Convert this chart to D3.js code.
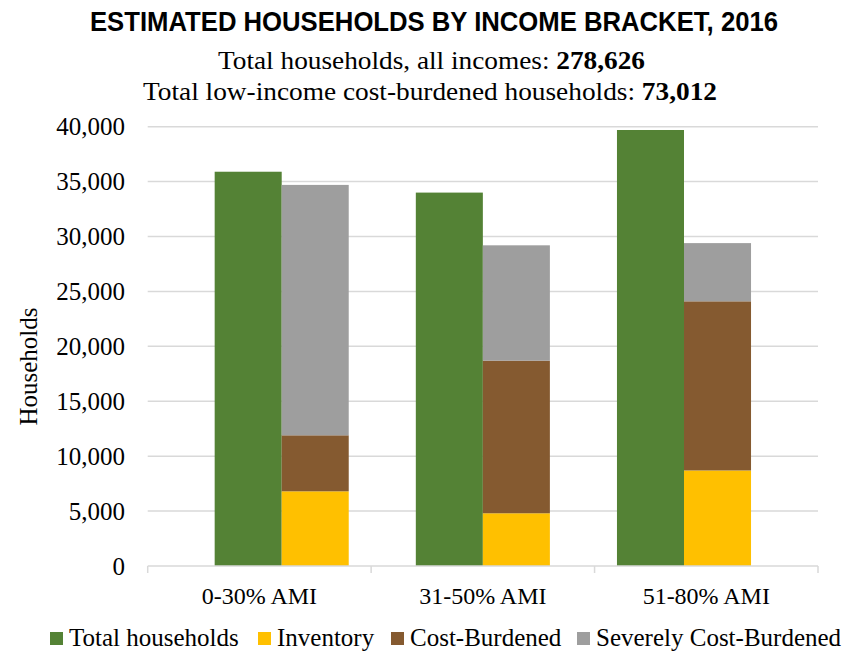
<!DOCTYPE html>
<html>
<head>
<meta charset="utf-8">
<script src="https://cdn.jsdelivr.net/npm/d3@7/dist/d3.min.js"></script>
<style>
  html, body { margin: 0; padding: 0; background: #fff; }
  svg text { fill: #000; }
</style>
</head>
<body>
<svg id="chart" width="858" height="653"></svg>
<script>
// Income brackets (share of Area Median Income)
const categories = ["0-30% AMI", "31-50% AMI", "51-80% AMI"];

// Total households in each bracket
const totalHouseholds = [35900, 34000, 39700];

// Stacked components
const inventory = [6800, 4800, 8700];
const costBurdened = [5100, 13900, 15400];
const severelyCostBurdened = [22800, 10500, 5300];

const yTicks = [0, 5000, 10000, 15000, 20000, 25000, 30000, 35000, 40000];

const seriesNames = ["Total households", "Inventory", "Cost-Burdened", "Severely Cost-Burdened"];
const seriesColors = ["#548235", "#FFC000", "#855A30", "#9E9E9E"];

const serif = "'Liberation Serif', 'Times New Roman', serif";
const svg = d3.select("#chart");

const plot = { left: 147.7, right: 818, top: 126.7, bottom: 566 };

// Category axis bands
const x = d3.scaleBand().domain(categories).range([plot.left, plot.right]).padding(0);
// Bar cluster centres (the bar pairs sit on their own, tighter spacing)
const cluster = d3.scalePoint().domain(categories).range([281.7, 684]);
const y = d3.scaleLinear().domain([0, 40000]).range([plot.bottom, plot.top]);
const barW = x.bandwidth() * 0.3;

// Title (condensed bold sans)
svg.append("text")
  .attr("x", 434).attr("y", 31)
  .attr("text-anchor", "middle")
  .attr("textLength", 688).attr("lengthAdjust", "spacingAndGlyphs")
  .style("font-family", "'Liberation Sans Narrow', 'Liberation Sans', Arial, sans-serif")
  .style("font-weight", "bold")
  .style("font-size", "28px")
  .text("ESTIMATED HOUSEHOLDS BY INCOME BRACKET, 2016");

// Subtitle lines
const sub1 = svg.append("text")
  .attr("x", 431.5).attr("y", 69)
  .attr("text-anchor", "middle")
  .attr("textLength", 427).attr("lengthAdjust", "spacingAndGlyphs")
  .style("font-family", serif).style("font-size", "26px");
sub1.append("tspan").text("Total households, all incomes: ");
sub1.append("tspan").style("font-weight", "bold").text("278,626");

const sub2 = svg.append("text")
  .attr("x", 430).attr("y", 100)
  .attr("text-anchor", "middle")
  .attr("textLength", 574).attr("lengthAdjust", "spacingAndGlyphs")
  .style("font-family", serif).style("font-size", "26px");
sub2.append("tspan").text("Total low-income cost-burdened households: ");
sub2.append("tspan").style("font-weight", "bold").text("73,012");

// Gridlines
svg.append("g")
  .selectAll("line")
  .data(yTicks.filter(d => d > 0))
  .join("line")
  .attr("x1", plot.left).attr("x2", plot.right)
  .attr("y1", d => y(d)).attr("y2", d => y(d))
  .attr("stroke", "#D9D9D9").attr("stroke-width", 1.5);

// Y axis labels
const yAxis = d3.axisLeft(y).tickValues(yTicks).tickFormat(d3.format(",")).tickSize(0).tickPadding(22.7);
const gy = svg.append("g").attr("transform", `translate(${plot.left},0)`).call(yAxis);
gy.select(".domain").remove();
gy.selectAll("text")
  .style("font-family", serif).style("font-size", "25px").attr("fill", "#000");

// Total household bars
svg.append("g")
  .selectAll("rect")
  .data(categories)
  .join("rect")
  .attr("x", d => cluster(d) - barW)
  .attr("width", barW)
  .attr("y", (d, i) => y(totalHouseholds[i]))
  .attr("height", (d, i) => y(0) - y(totalHouseholds[i]))
  .attr("fill", seriesColors[0]);

// Stacked bars: inventory, cost-burdened, severely cost-burdened
const stackRows = categories.map((c, i) => ({
  cat: c,
  inventory: inventory[i],
  costBurdened: costBurdened[i],
  severe: severelyCostBurdened[i]
}));
const stacked = d3.stack().keys(["inventory", "costBurdened", "severe"])(stackRows);

svg.append("g")
  .selectAll("g")
  .data(stacked)
  .join("g")
  .attr("fill", (d, i) => seriesColors[i + 1])
  .selectAll("rect")
  .data(d => d)
  .join("rect")
  .attr("x", d => cluster(d.data.cat))
  .attr("width", barW)
  .attr("y", d => y(d[1]))
  .attr("height", d => y(d[0]) - y(d[1]));

// X axis
const xAxis = d3.axisBottom(x).tickSize(0).tickPadding(21);
const gx = svg.append("g").attr("transform", `translate(0,${plot.bottom})`).call(xAxis);
gx.select(".domain").remove();
gx.selectAll("text")
  .style("font-family", serif).style("font-size", "24px").attr("fill", "#000");

svg.append("line")
  .attr("x1", plot.left).attr("x2", plot.right)
  .attr("y1", y(0)).attr("y2", y(0))
  .attr("stroke", "#D9D9D9").attr("stroke-width", 1.5);

const boundaries = categories.map(c => x(c)).concat([plot.right]);
svg.append("g")
  .selectAll("line")
  .data(boundaries)
  .join("line")
  .attr("x1", d => d).attr("x2", d => d)
  .attr("y1", y(0)).attr("y2", y(0) + 7)
  .attr("stroke", "#D9D9D9").attr("stroke-width", 1.5);

// Y axis title
svg.append("text")
  .attr("transform", "translate(37,366.5) rotate(-90)")
  .attr("text-anchor", "middle")
  .style("font-family", serif).style("font-size", "25px")
  .text("Households");

// Legend
const legendX = [50, 258, 391, 577];
const legend = svg.append("g")
  .selectAll("g")
  .data(seriesNames)
  .join("g")
  .attr("transform", (d, i) => `translate(${legendX[i]},632)`);
legend.append("rect")
  .attr("width", 13).attr("height", 13)
  .attr("fill", (d, i) => seriesColors[i]);
legend.append("text")
  .attr("x", 19).attr("y", 14)
  .style("font-family", serif).style("font-size", "25px")
  .text(d => d);
</script>
</body>
</html>
